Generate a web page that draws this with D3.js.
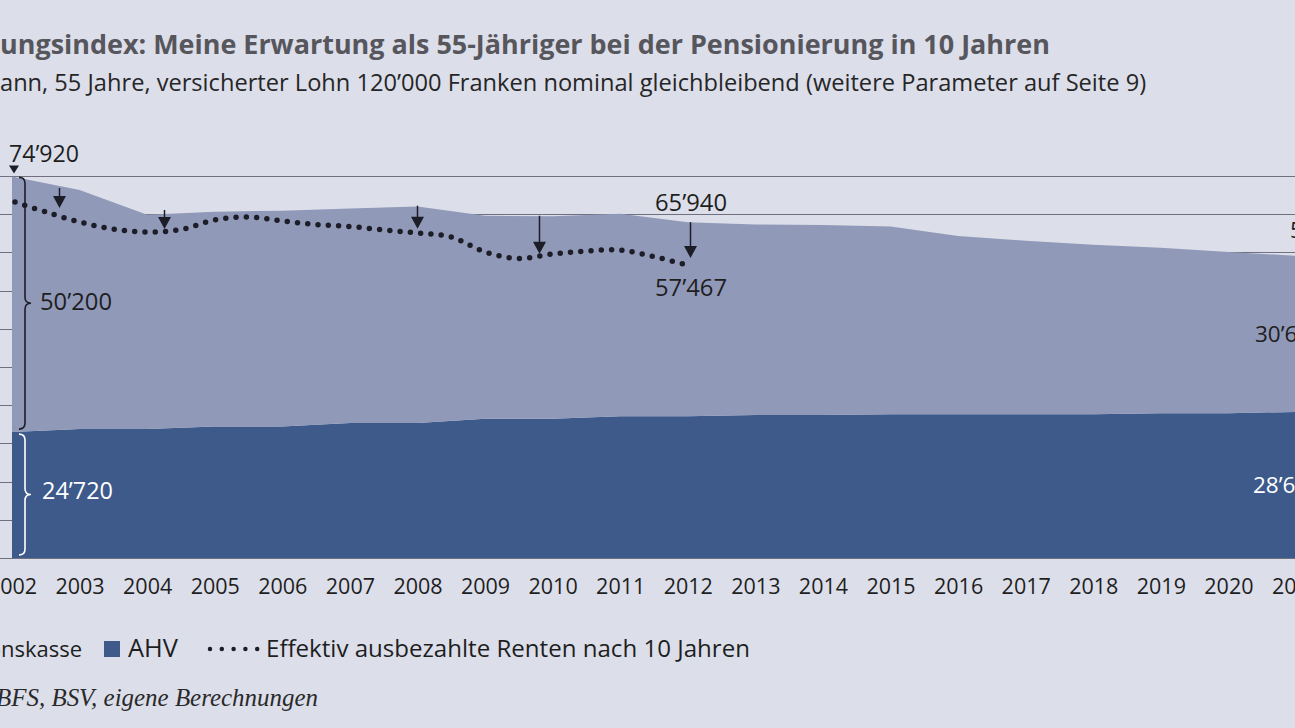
<!DOCTYPE html>
<html>
<head>
<meta charset="utf-8">
<script src="https://cdn.jsdelivr.net/npm/d3@7/dist/d3.min.js"></script>
<style>
html, body { margin: 0; padding: 0; background: #dcdeea; overflow: hidden; }
svg { display: block; }
</style>
</head>
<body>
<div id="chart"></div>
<script>
// values (CHF per year)
var years = [2002, 2003, 2004, 2005, 2006, 2007, 2008, 2009, 2010, 2011,
             2012, 2013, 2014, 2015, 2016, 2017, 2018, 2019, 2020, 2021];
var ahv = [24720, 25320, 25320, 25800, 25800, 26520, 26520, 27360, 27360, 27840,
           27840, 28080, 28080, 28200, 28200, 28200, 28200, 28440, 28440, 28680];
var pensionskasse = [50200, 46930, 42080, 42200, 42400, 42080, 42480, 39840, 39740, 39760,
                     38100, 37420, 37320, 36900, 35000, 34100, 33300, 32460, 31660, 30660];

// effektiv ausbezahlte Renten (dotted line), half-year readings
var effektivYears = [2002, 2002.5, 2003, 2003.5, 2004, 2004.5, 2005, 2005.5, 2006, 2006.5,
                     2007, 2007.5, 2008, 2008.5, 2009, 2009.5, 2010, 2010.5, 2011, 2011.5, 2012];
var effektiv = [69900, 67930, 65970, 64590, 64000, 64500, 66360, 66950, 66160, 65480,
                65090, 64400, 63810, 63030, 60080, 58800, 59680, 60270, 60450, 59170, 57467];

// arrows from the expectation down to the paid pension
var arrowYears = [2002.7, 2004.25, 2008.0, 2009.8, 2012.04];
var arrowFrom = [72650, 68330, 69170, 67200, 65940];
var arrowTo = [68720, 64600, 64650, 59740, 58900];

var yTicks = d3.range(0, 75001, 7500);
var legendItems = ["Pensionskasse", "AHV", "Effektiv ausbezahlte Renten nach 10 Jahren"];

var W = 1295, H = 728;
var colPK = "#9199b8", colAHV = "#3d5a8b", colDark = "#1d1d27", colGrid = "#707080";
var sans = "'Open Sans', sans-serif";

var svg = d3.select("#chart").append("svg")
    .attr("width", W)
    .attr("height", H)
    .style("font-family", sans);

var x = d3.scaleLinear().domain([2002, 2021]).range([12, 1296]);
var y = d3.scaleLinear().domain([0, 75000]).range([558, 176]);

// scale a text's font-size so it covers a given width
function fit(sel, width) {
    var len = sel.node().getComputedTextLength();
    var fs = parseFloat(sel.attr("font-size"));
    sel.attr("font-size", (fs * width / len).toFixed(2));
    return sel;
}

// title and subtitle
fit(svg.append("text")
    .attr("x", 0).attr("y", 54)
    .attr("font-size", 24).attr("font-weight", "bold").attr("fill", "#56565c")
    .text("ungsindex: Meine Erwartung als 55-Jähriger bei der Pensionierung in 10 Jahren"), 1050);

fit(svg.append("text")
    .attr("x", 0).attr("y", 91)
    .attr("font-size", 21).attr("fill", "#262626")
    .text("ann, 55 Jahre, versicherter Lohn 120’000 Franken nominal gleichbleibend (weitere Parameter auf Seite 9)"), 1147);

// gridlines behind the areas
svg.append("g").selectAll("line")
    .data(yTicks)
    .join("line")
    .attr("x1", 0).attr("x2", W)
    .attr("y1", function(d) { return Math.round(y(d)) + 0.5; })
    .attr("y2", function(d) { return Math.round(y(d)) + 0.5; })
    .attr("stroke", colGrid)
    .attr("stroke-width", 1);

// stacked areas
var table = years.map(function(yr, i) {
    return { year: yr, AHV: ahv[i], Pensionskasse: pensionskasse[i] };
});
var stack = d3.stack().keys(["AHV", "Pensionskasse"]);
var series = stack(table);

var area = d3.area()
    .x(function(d) { return x(d.data.year); })
    .y0(function(d) { return y(d[0]); })
    .y1(function(d) { return y(d[1]); });

svg.append("g").selectAll("path")
    .data(series)
    .join("path")
    .attr("d", area)
    .attr("fill", function(d) { return d.key === "AHV" ? colAHV : colPK; });

// dotted line
var line = d3.line()
    .x(function(d, i) { return x(effektivYears[i]) + (i === 0 ? 3 : 0); })
    .y(function(d) { return y(d); })
    .curve(d3.curveCatmullRom.alpha(0.5));

svg.append("path")
    .attr("d", line(effektiv))
    .attr("fill", "none")
    .attr("stroke", colDark)
    .attr("stroke-width", 5.5)
    .attr("stroke-linecap", "round")
    .attr("stroke-dasharray", "0,10.3");

// arrows
var arrows = svg.append("g");
arrowYears.forEach(function(yr, i) {
    var ax = Math.round(x(yr)) + 0.5, top = y(arrowFrom[i]), tip = y(arrowTo[i]);
    arrows.append("line")
        .attr("x1", ax).attr("x2", ax)
        .attr("y1", top).attr("y2", tip - 8)
        .attr("stroke", colDark).attr("stroke-width", 1.5);
    arrows.append("path")
        .attr("d", "M" + (ax - 6.5) + "," + (tip - 12) + "L" + (ax + 6.5) + "," + (tip - 12) + "L" + ax + "," + tip + "Z")
        .attr("fill", colDark);
});

// small marker at the start value
var sx = x(2002) + 2, sy = y(74920);
svg.append("path")
    .attr("d", "M" + (sx - 5) + "," + (sy - 11) + "L" + (sx + 5) + "," + (sy - 11) + "L" + sx + "," + (sy - 3) + "Z")
    .attr("fill", colDark);

// curly braces
function brace(bx, y1, y2) {
    var ym = (y1 + y2) / 2, r = 6;
    return "M" + (bx - r) + "," + y1 + " Q" + bx + "," + y1 + " " + bx + "," + (y1 + r) +
        " L" + bx + "," + (ym - r) + " Q" + bx + "," + ym + " " + (bx + r) + "," + ym +
        " Q" + bx + "," + ym + " " + bx + "," + (ym + r) +
        " L" + bx + "," + (y2 - r) + " Q" + bx + "," + y2 + " " + (bx - r) + "," + y2;
}
svg.append("path")
    .attr("d", brace(25, y(74920) + 1, y(ahv[0]) - 3))
    .attr("fill", "none").attr("stroke", colDark).attr("stroke-width", 1.6);
svg.append("path")
    .attr("d", brace(25, y(ahv[0]) + 2, y(0) - 3))
    .attr("fill", "none").attr("stroke", "#ffffff").attr("stroke-width", 1.6);

// value labels
var fmt = function(v) { return d3.format(",")(v).replace(",", "’"); };
var n = years.length - 1;

function label(txt, lx, ly, col, width) {
    var t = svg.append("text")
        .attr("x", lx).attr("y", ly)
        .attr("font-size", 22).attr("fill", col)
        .text(txt);
    if (width) fit(t, width);
    return t;
}
label(fmt(74920), 9, 162, "#1e1e1e", 70);
label(fmt(pensionskasse[0]), 40, 310, "#1e1e1e", 72);
label(fmt(ahv[0]), 42, 499, "#ffffff", 71);
label(fmt(ahv[10] + pensionskasse[10]), 655, 211, "#1e1e1e", 72);
label(fmt(effektiv[effektiv.length - 1]), 655, 296, "#1e1e1e", 72);
label(fmt(ahv[n] + pensionskasse[n]), 1290, 238, "#1e1e1e").attr("font-size", 22.5);
label(fmt(pensionskasse[n]), 1255, 342, "#1e1e1e").attr("font-size", 22.5);
label(fmt(ahv[n]), 1253, 493, "#ffffff").attr("font-size", 22.5);

// year axis
var xAxis = d3.axisBottom(x)
    .tickValues(years)
    .tickFormat(d3.format("d"))
    .tickSize(0)
    .tickPadding(0);
var gx = svg.append("g")
    .attr("transform", "translate(0,594)")
    .call(xAxis);
gx.select(".domain").remove();
gx.selectAll("text")
    .attr("dy", 0)
    .attr("font-size", 21.5)
    .style("font-family", sans)
    .attr("fill", "#1e1e1e");

// legend
var lg = svg.append("g");
lg.append("text")
    .attr("x", 82).attr("y", 657).attr("text-anchor", "end")
    .attr("font-size", 22).attr("fill", "#1e1e1e")
    .text(legendItems[0]);
lg.append("rect")
    .attr("x", 104).attr("y", 641).attr("width", 16).attr("height", 16)
    .attr("fill", colAHV);
fit(lg.append("text")
    .attr("x", 128).attr("y", 657)
    .attr("font-size", 22).attr("fill", "#1e1e1e")
    .text(legendItems[1]), 50);
lg.append("line")
    .attr("x1", 210).attr("x2", 258.5).attr("y1", 649).attr("y2", 649)
    .attr("stroke", colDark).attr("stroke-width", 4.5)
    .attr("stroke-linecap", "round").attr("stroke-dasharray", "0,11.8");
fit(lg.append("text")
    .attr("x", 266).attr("y", 657)
    .attr("font-size", 22).attr("fill", "#1e1e1e")
    .text(legendItems[2]), 484);

// source, sized so the visible part spans the same width as in the picture
var serif = "'Liberation Serif', 'DejaVu Serif', serif";
var probe = svg.append("text")
    .attr("font-size", 26).attr("font-style", "italic")
    .style("font-family", serif)
    .text("BFS, BSV, eigene Berechnungen");
var srcSize = 26 * 322 / probe.node().getComputedTextLength();
probe.remove();
svg.append("text")
    .attr("x", 318).attr("y", 706).attr("text-anchor", "end")
    .attr("font-size", srcSize.toFixed(2)).attr("font-style", "italic").attr("fill", "#2a2a2a")
    .style("font-family", serif)
    .text("Quelle: BFS, BSV, eigene Berechnungen");
</script>
</body>
</html>
